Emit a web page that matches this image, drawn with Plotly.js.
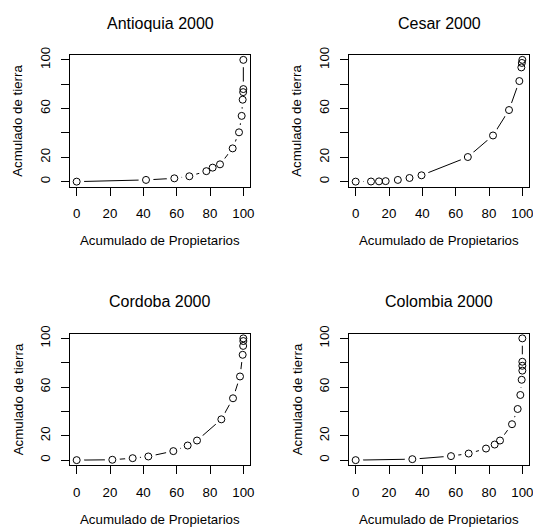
<!DOCTYPE html>
<html>
<head>
<meta charset="utf-8">
<script src="https://cdn.plot.ly/plotly-3.0.1.min.js"></script>
<style>html,body{margin:0;padding:0;background:#fff}#chart{width:533px;height:527px}</style>
</head>
<body>
<div id="chart"></div>
<script>
// ---- data ----
var panelTitles = ["Antioquia 2000", "Cesar 2000", "Cordoba 2000", "Colombia 2000"];
var xLabel = "Acumulado de Propietarios";
var yLabel = "Acmulado de tierra";

var antioquiaX = [0, 41.6, 58.6, 67.6, 77.8, 81.6, 86.0, 93.6, 97.4, 99.0, 99.6, 99.9, 100, 100];
var antioquiaY = [0, 1.4, 2.7, 4.4, 8.6, 11.5, 14.2, 27.3, 40.5, 54.0, 67.3, 73.5, 76.0, 100];

var cesarX = [0, 9.2, 14.0, 18.0, 25.3, 32.3, 39.5, 67.3, 82.4, 92.0, 98.2, 99.4, 99.7, 100];
var cesarY = [0, 0.1, 0.2, 0.4, 1.4, 3.0, 5.2, 20.2, 37.9, 58.8, 82.6, 93.8, 97.5, 100];

var cordobaX = [0, 21.4, 33.6, 43.0, 58.0, 66.6, 72.2, 86.8, 93.8, 98.0, 99.6, 99.9, 100, 100];
var cordobaY = [0, 0.3, 1.6, 3.0, 7.4, 12.0, 16.1, 33.5, 50.8, 68.7, 86.5, 93.8, 97.8, 100];

var colombiaX = [0, 34.0, 57.2, 67.8, 78.2, 83.4, 86.6, 93.8, 97.2, 98.8, 99.6, 100, 100, 100, 100];
var colombiaY = [0, 0.8, 3.3, 5.4, 9.5, 12.8, 16.1, 29.5, 42.0, 53.5, 66.0, 73.5, 77.5, 80.8, 100];

var tickVals = [0, 20, 40, 60, 80, 100];
var xTickText = ["0", "20", "40", "60", "80", "100"];
var yTickText = ["0", "20", "", "60", "", "100"];

var seriesX = [antioquiaX, cesarX, cordobaX, colombiaX];
var seriesY = [antioquiaY, cesarY, cordobaY, colombiaY];

// ---- layout geometry (pixels) ----
var W = 533, H = 527;
var boxes = [
  {l: 70, r: 250, t: 55, b: 186.5},
  {l: 349, r: 529, t: 55, b: 186.5},
  {l: 70, r: 250, t: 333.5, b: 465},
  {l: 349, r: 529, t: 333.5, b: 465}
];
var FONT = "Liberation Sans, Arial, Helvetica, sans-serif";

var traces = [];
var layout = {
  width: W, height: H,
  margin: {l: 0, r: 0, t: 0, b: 0},
  paper_bgcolor: "#fff", plot_bgcolor: "#fff",
  showlegend: false,
  font: {family: FONT, size: 13.3, color: "#000"},
  annotations: []
};

function px2x(p) { return p / W; }
function px2y(p) { return 1 - p / H; }

for (var i = 0; i < 4; i++) {
  var s = i === 0 ? "" : String(i + 1);
  var xa = "x" + s, ya = "y" + s;
  var bx = boxes[i];
  traces.push({x: seriesX[i], y: seriesY[i], xaxis: xa, yaxis: ya, type: "scatter", mode: "lines",
    line: {color: "#000", width: 1}, hoverinfo: "skip"});
  traces.push({x: seriesX[i], y: seriesY[i], xaxis: xa, yaxis: ya, type: "scatter", mode: "markers",
    marker: {symbol: "circle", size: 15, color: "#fff", line: {width: 0}}, hoverinfo: "skip"});
  traces.push({x: seriesX[i], y: seriesY[i], xaxis: xa, yaxis: ya, type: "scatter", mode: "markers",
    marker: {symbol: "circle-open", size: 7, color: "#000", line: {width: 1, color: "#000"}}});

  var common = {
    range: [-4, 104], showgrid: false, zeroline: false,
    showline: true, mirror: true, linecolor: "#000", linewidth: 1,
    ticks: "outside", ticklen: 8, tickwidth: 1, tickcolor: "#000",
    tickmode: "array", tickvals: tickVals, ticklabeloverflow: "allow",
    tickfont: {family: FONT, size: 13.3, color: "#000"},
    fixedrange: true
  };
  layout["xaxis" + s] = Object.assign({}, common, {
    domain: [px2x(bx.l), px2x(bx.r)], anchor: ya, ticktext: xTickText, ticklabelstandoff: 7
  });
  layout["yaxis" + s] = Object.assign({}, common, {
    domain: [px2y(bx.b), px2y(bx.t)], anchor: xa, ticktext: yTickText, tickangle: -90, ticklabelstandoff: 6
  });

  var cx = (bx.l + bx.r) / 2, cy = (bx.t + bx.b) / 2;
  layout.annotations.push({text: panelTitles[i], xref: "paper", yref: "paper",
    x: px2x(cx), y: px2y(bx.t - 32), xanchor: "center", yanchor: "middle", showarrow: false,
    font: {family: FONT, size: 16, color: "#000"}});
  layout.annotations.push({text: xLabel, xref: "paper", yref: "paper",
    x: px2x(cx), y: px2y(bx.b + 54), xanchor: "center", yanchor: "middle", showarrow: false,
    font: {family: FONT, size: 13.3, color: "#000"}});
  layout.annotations.push({text: yLabel, xref: "paper", yref: "paper", textangle: -90,
    x: px2x(bx.l - 52), y: px2y(cy), xanchor: "center", yanchor: "middle", showarrow: false,
    font: {family: FONT, size: 13.3, color: "#000"}});
}

Plotly.newPlot("chart", traces, layout, {staticPlot: true, displayModeBar: false});
</script>
</body>
</html>
